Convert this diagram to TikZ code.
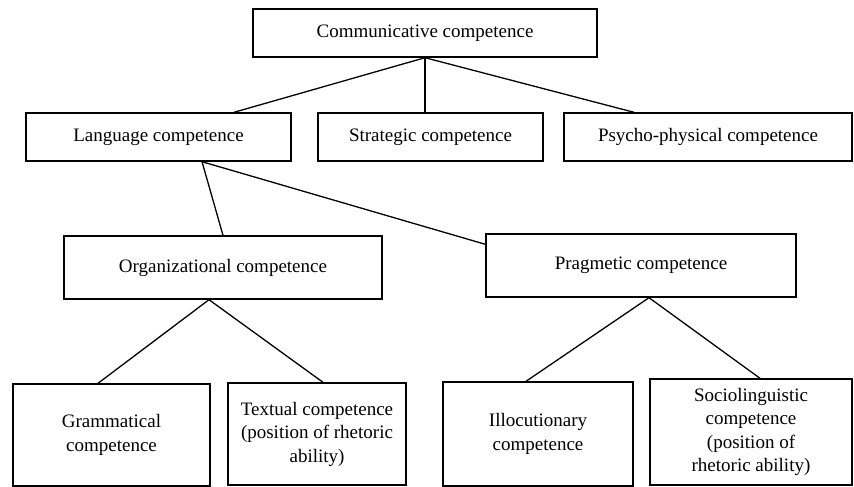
\documentclass[tikz,border=0pt]{standalone}
\usepackage{fontspec}
\setmainfont{Liberation Serif}
\usepackage{tikz}

\begin{document}
\begin{tikzpicture}[x=1pt, y=-1pt, line width=1.3pt,
  comp/.style={draw, line width=1.4pt, align=center, inner sep=2pt,
    font=\fontsize{19}{23.5}\selectfont}]
\useasboundingbox (0,0) rectangle (854,487);
%%%%% Boxes %%%%%
\node[comp, minimum width=344, minimum height=48] (comm) at (425,33) {Communicative competence};
\node[comp, minimum width=265, minimum height=48] (lang) at (158.5,137) {Language competence};
\node[comp, minimum width=225, minimum height=48] (strat) at (430.5,137) {Strategic competence};
\node[comp, minimum width=288, minimum height=48] (psych) at (708,137) {Psycho-physical competence};
\node[comp, minimum width=318, minimum height=63] (org) at (223,267.5) {Organizational competence};
\node[comp, minimum width=310, minimum height=63] (prag) at (641,265.5) {Pragmetic competence};
\node[comp, minimum width=197, minimum height=102] (gram) at (111.5,435) {Grammatical\\competence};
\node[comp, minimum width=178, minimum height=102] (text) at (317,434) {Textual competence\\(position of rhetoric\\ability)};
\node[comp, minimum width=190, minimum height=104] (illoc) at (538,434) {Illocutionary\\competence};
\node[comp, minimum width=202, minimum height=106] (socio) at (751,432) {Sociolinguistic\\competence\\(position of\\rhetoric ability)};
%%%%% Lines %%%%%
\draw (comm.south) -- ([xshift=75.5]lang.north);
\draw (comm.south) -- (comm.south |- strat.north);
\draw (comm.south) -- ([xshift=-74]psych.north);
\coordinate (fork) at ([xshift=43.5]lang.south);
\draw (fork) -- (org.north);
\draw (fork) -- ([yshift=-11]prag.north west);
\draw ([xshift=-14]org.south) -- ([xshift=-13.5]gram.north);
\draw ([xshift=-14]org.south) -- ([xshift=6]text.north);
\draw ([xshift=8]prag.south) -- ([xshift=-12]illoc.north);
\draw ([xshift=8]prag.south) -- ([xshift=9]socio.north);
\end{tikzpicture}
\end{document}
